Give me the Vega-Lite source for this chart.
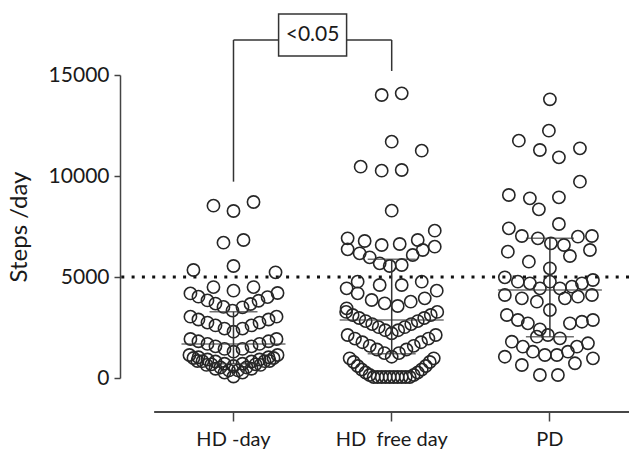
{
"$schema":"https://vega.github.io/schema/vega-lite/v6.json",
"width":509,"height":303,
"autosize":{"type":"none"},
"padding":{"left":120,"top":75,"right":0,"bottom":75},
"background":"white",
"config":{"view":{"stroke":null},"font":"Lato",
 "axis":{"labelColor":"#1a1a1a","titleColor":"#1a1a1a","tickColor":"#444","domainColor":"#444","domainWidth":1.5,"tickWidth":1.5,"grid":false,"labelFont":"Lato","titleFont":"Lato"}},
"datasets":{
"points":[
{"group":"HD -day","jitter":-20,"steps":8530},{"group":"HD -day","jitter":0,"steps":8267},{"group":"HD -day","jitter":20,"steps":8713},{"group":"HD -day","jitter":-10,"steps":6700},{"group":"HD -day","jitter":10,"steps":6832},{"group":"HD -day","jitter":0,"steps":5545},{"group":"HD -day","jitter":-40,"steps":5347},{"group":"HD -day","jitter":42,"steps":5231},{"group":"HD -day","jitter":-20,"steps":4500},{"group":"HD -day","jitter":0,"steps":4323},{"group":"HD -day","jitter":20,"steps":4500},
{"group":"HD -day","jitter":-43,"steps":4188},{"group":"HD -day","jitter":-35,"steps":4025},{"group":"HD -day","jitter":-26,"steps":3842},{"group":"HD -day","jitter":-18,"steps":3683},{"group":"HD -day","jitter":-10,"steps":3520},{"group":"HD -day","jitter":-1,"steps":3337},{"group":"HD -day","jitter":9,"steps":3500},{"group":"HD -day","jitter":17,"steps":3663},{"group":"HD -day","jitter":25,"steps":3822},{"group":"HD -day","jitter":34,"steps":4005},{"group":"HD -day","jitter":44,"steps":4208},
{"group":"HD -day","jitter":-43,"steps":3035},{"group":"HD -day","jitter":-35,"steps":2896},{"group":"HD -day","jitter":-26,"steps":2743},{"group":"HD -day","jitter":-18,"steps":2604},{"group":"HD -day","jitter":-9,"steps":2446},{"group":"HD -day","jitter":0,"steps":2292},{"group":"HD -day","jitter":9,"steps":2446},{"group":"HD -day","jitter":18,"steps":2604},{"group":"HD -day","jitter":26,"steps":2743},{"group":"HD -day","jitter":35,"steps":2896},{"group":"HD -day","jitter":43,"steps":3035},
{"group":"HD -day","jitter":-43,"steps":1931},{"group":"HD -day","jitter":-35,"steps":1817},{"group":"HD -day","jitter":-26,"steps":1688},{"group":"HD -day","jitter":-18,"steps":1569},{"group":"HD -day","jitter":-9,"steps":1440},{"group":"HD -day","jitter":0,"steps":1302},{"group":"HD -day","jitter":9,"steps":1440},{"group":"HD -day","jitter":18,"steps":1569},{"group":"HD -day","jitter":26,"steps":1688},{"group":"HD -day","jitter":35,"steps":1817},{"group":"HD -day","jitter":43,"steps":1931},
{"group":"HD -day","jitter":-44,"steps":1139},{"group":"HD -day","jitter":-35,"steps":1027},{"group":"HD -day","jitter":-26,"steps":916},{"group":"HD -day","jitter":-18,"steps":817},{"group":"HD -day","jitter":-9,"steps":705},{"group":"HD -day","jitter":0,"steps":594},{"group":"HD -day","jitter":9,"steps":705},{"group":"HD -day","jitter":18,"steps":817},{"group":"HD -day","jitter":26,"steps":916},{"group":"HD -day","jitter":35,"steps":1027},{"group":"HD -day","jitter":44,"steps":1139},
{"group":"HD -day","jitter":-40,"steps":990},{"group":"HD -day","jitter":-31,"steps":834},{"group":"HD -day","jitter":-22,"steps":678},{"group":"HD -day","jitter":-13,"steps":522},{"group":"HD -day","jitter":-4.5,"steps":376},{"group":"HD -day","jitter":4.5,"steps":376},{"group":"HD -day","jitter":13,"steps":522},{"group":"HD -day","jitter":22,"steps":678},{"group":"HD -day","jitter":31,"steps":834},{"group":"HD -day","jitter":40,"steps":990},
{"group":"HD -day","jitter":-36,"steps":842},{"group":"HD -day","jitter":-27,"steps":650},{"group":"HD -day","jitter":-18,"steps":458},{"group":"HD -day","jitter":-9,"steps":267},{"group":"HD -day","jitter":0,"steps":74},{"group":"HD -day","jitter":9,"steps":267},{"group":"HD -day","jitter":18,"steps":458},{"group":"HD -day","jitter":27,"steps":650},{"group":"HD -day","jitter":36,"steps":842},
{"group":"HD\u00a0 free day","jitter":-10,"steps":14010},{"group":"HD\u00a0 free day","jitter":10,"steps":14093},{"group":"HD\u00a0 free day","jitter":0,"steps":11700},{"group":"HD\u00a0 free day","jitter":30,"steps":11254},{"group":"HD\u00a0 free day","jitter":-31,"steps":10462},{"group":"HD\u00a0 free day","jitter":-10,"steps":10264},{"group":"HD\u00a0 free day","jitter":10,"steps":10297},{"group":"HD\u00a0 free day","jitter":0,"steps":8284},
{"group":"HD\u00a0 free day","jitter":43,"steps":7294},{"group":"HD\u00a0 free day","jitter":-44,"steps":6914},{"group":"HD\u00a0 free day","jitter":-27,"steps":6782},{"group":"HD\u00a0 free day","jitter":-10,"steps":6584},{"group":"HD\u00a0 free day","jitter":8,"steps":6634},{"group":"HD\u00a0 free day","jitter":26,"steps":6832},{"group":"HD\u00a0 free day","jitter":-44,"steps":6370},{"group":"HD\u00a0 free day","jitter":-32,"steps":6172},{"group":"HD\u00a0 free day","jitter":-22,"steps":5974},{"group":"HD\u00a0 free day","jitter":-12,"steps":5677},{"group":"HD\u00a0 free day","jitter":-2,"steps":5545},{"group":"HD\u00a0 free day","jitter":10,"steps":5594},{"group":"HD\u00a0 free day","jitter":21,"steps":6089},{"group":"HD\u00a0 free day","jitter":31,"steps":6337},{"group":"HD\u00a0 free day","jitter":43,"steps":6502},
{"group":"HD\u00a0 free day","jitter":-45,"steps":4439},{"group":"HD\u00a0 free day","jitter":-34,"steps":4769},{"group":"HD\u00a0 free day","jitter":-12,"steps":4604},{"group":"HD\u00a0 free day","jitter":10,"steps":4604},{"group":"HD\u00a0 free day","jitter":30,"steps":4769},{"group":"HD\u00a0 free day","jitter":45,"steps":4323},{"group":"HD\u00a0 free day","jitter":-34,"steps":4191},{"group":"HD\u00a0 free day","jitter":-20,"steps":3861},{"group":"HD\u00a0 free day","jitter":-7,"steps":3696},{"group":"HD\u00a0 free day","jitter":6,"steps":3564},{"group":"HD\u00a0 free day","jitter":19,"steps":3778},{"group":"HD\u00a0 free day","jitter":33,"steps":3944},{"group":"HD\u00a0 free day","jitter":-45,"steps":3449},
{"group":"HD\u00a0 free day","jitter":-45.5,"steps":3272},{"group":"HD\u00a0 free day","jitter":-39,"steps":3119},{"group":"HD\u00a0 free day","jitter":-32.5,"steps":2970},{"group":"HD\u00a0 free day","jitter":-26,"steps":2817},{"group":"HD\u00a0 free day","jitter":-19.5,"steps":2668},{"group":"HD\u00a0 free day","jitter":-13,"steps":2515},{"group":"HD\u00a0 free day","jitter":-6.5,"steps":2366},{"group":"HD\u00a0 free day","jitter":0,"steps":2213},{"group":"HD\u00a0 free day","jitter":6.5,"steps":2366},{"group":"HD\u00a0 free day","jitter":13,"steps":2515},{"group":"HD\u00a0 free day","jitter":19.5,"steps":2668},{"group":"HD\u00a0 free day","jitter":26,"steps":2817},{"group":"HD\u00a0 free day","jitter":32.5,"steps":2970},{"group":"HD\u00a0 free day","jitter":39,"steps":3119},{"group":"HD\u00a0 free day","jitter":45.5,"steps":3272},
{"group":"HD\u00a0 free day","jitter":-44,"steps":2129},{"group":"HD\u00a0 free day","jitter":-36.7,"steps":1950},{"group":"HD\u00a0 free day","jitter":-29.3,"steps":1772},{"group":"HD\u00a0 free day","jitter":-22,"steps":1592},{"group":"HD\u00a0 free day","jitter":-14.7,"steps":1411},{"group":"HD\u00a0 free day","jitter":-7.3,"steps":1233},{"group":"HD\u00a0 free day","jitter":0,"steps":1054},{"group":"HD\u00a0 free day","jitter":7.3,"steps":1233},{"group":"HD\u00a0 free day","jitter":14.7,"steps":1411},{"group":"HD\u00a0 free day","jitter":22,"steps":1592},{"group":"HD\u00a0 free day","jitter":29.3,"steps":1772},{"group":"HD\u00a0 free day","jitter":36.7,"steps":1950},{"group":"HD\u00a0 free day","jitter":44,"steps":2129},
{"group":"HD\u00a0 free day","jitter":-42,"steps":975},{"group":"HD\u00a0 free day","jitter":-38,"steps":792},{"group":"HD\u00a0 free day","jitter":-34,"steps":594},{"group":"HD\u00a0 free day","jitter":-30,"steps":421},{"group":"HD\u00a0 free day","jitter":-26,"steps":272},{"group":"HD\u00a0 free day","jitter":-22,"steps":149},{"group":"HD\u00a0 free day","jitter":-18,"steps":50},{"group":"HD\u00a0 free day","jitter":-14,"steps":50},{"group":"HD\u00a0 free day","jitter":-10,"steps":50},{"group":"HD\u00a0 free day","jitter":-6,"steps":50},{"group":"HD\u00a0 free day","jitter":-2,"steps":50},{"group":"HD\u00a0 free day","jitter":2,"steps":50},{"group":"HD\u00a0 free day","jitter":6,"steps":50},{"group":"HD\u00a0 free day","jitter":10,"steps":50},{"group":"HD\u00a0 free day","jitter":14,"steps":50},{"group":"HD\u00a0 free day","jitter":18,"steps":50},{"group":"HD\u00a0 free day","jitter":22,"steps":149},{"group":"HD\u00a0 free day","jitter":26,"steps":272},{"group":"HD\u00a0 free day","jitter":30,"steps":421},{"group":"HD\u00a0 free day","jitter":34,"steps":594},{"group":"HD\u00a0 free day","jitter":38,"steps":792},{"group":"HD\u00a0 free day","jitter":42,"steps":975},
{"group":"PD","jitter":0,"steps":13797},{"group":"PD","jitter":-1,"steps":12244},{"group":"PD","jitter":-31,"steps":11749},{"group":"PD","jitter":-10,"steps":11287},{"group":"PD","jitter":9,"steps":10924},{"group":"PD","jitter":30,"steps":11370},{"group":"PD","jitter":30,"steps":9720},{"group":"PD","jitter":-41,"steps":9059},{"group":"PD","jitter":-20,"steps":8894},{"group":"PD","jitter":9,"steps":8943},{"group":"PD","jitter":-11,"steps":8350},{"group":"PD","jitter":9,"steps":7624},{"group":"PD","jitter":-41,"steps":7409},{"group":"PD","jitter":-28,"steps":7030},{"group":"PD","jitter":-12,"steps":6914},{"group":"PD","jitter":1,"steps":6667},{"group":"PD","jitter":14,"steps":6584},{"group":"PD","jitter":28,"steps":6996},{"group":"PD","jitter":42,"steps":7030},{"group":"PD","jitter":-42,"steps":6254},{"group":"PD","jitter":20,"steps":6040},{"group":"PD","jitter":40,"steps":6337},{"group":"PD","jitter":-21,"steps":5759},{"group":"PD","jitter":0,"steps":5429},{"group":"PD","jitter":-45,"steps":4983},{"group":"PD","jitter":-32,"steps":4769},{"group":"PD","jitter":-20,"steps":4686},{"group":"PD","jitter":-10,"steps":4439},{"group":"PD","jitter":0,"steps":4769},{"group":"PD","jitter":10,"steps":4439},{"group":"PD","jitter":22,"steps":4521},{"group":"PD","jitter":32,"steps":4686},{"group":"PD","jitter":43,"steps":4851},
{"group":"PD","jitter":-45,"steps":4109},{"group":"PD","jitter":-28,"steps":3944},{"group":"PD","jitter":-13,"steps":3778},{"group":"PD","jitter":15,"steps":3944},{"group":"PD","jitter":28,"steps":4027},{"group":"PD","jitter":42,"steps":4109},
{"group":"PD","jitter":0,"steps":3366},
{"group":"PD","jitter":-43,"steps":3119},{"group":"PD","jitter":-32,"steps":2871},{"group":"PD","jitter":-22,"steps":2706},{"group":"PD","jitter":20,"steps":2706},{"group":"PD","jitter":32,"steps":2787},{"group":"PD","jitter":43,"steps":2871},
{"group":"PD","jitter":-10,"steps":2409},
{"group":"PD","jitter":-13,"steps":2045},{"group":"PD","jitter":-2,"steps":2129},{"group":"PD","jitter":10,"steps":1965},
{"group":"PD","jitter":-38,"steps":1797},{"group":"PD","jitter":-27,"steps":1550},{"group":"PD","jitter":-17,"steps":1302},{"group":"PD","jitter":-5,"steps":1139},{"group":"PD","jitter":7,"steps":1139},{"group":"PD","jitter":18,"steps":1302},{"group":"PD","jitter":27,"steps":1550},{"group":"PD","jitter":38,"steps":1718},
{"group":"PD","jitter":-45,"steps":1054},{"group":"PD","jitter":-28,"steps":644},{"group":"PD","jitter":25,"steps":728},{"group":"PD","jitter":43,"steps":975},
{"group":"PD","jitter":-10,"steps":149},{"group":"PD","jitter":8,"steps":149}
],
"stats":[
{"group":"HD -day","q1":700,"median":1683,"q3":3280},
{"group":"HD\u00a0 free day","q1":1200,"median":2871,"q3":5875},
{"group":"PD","q1":2046,"median":4356,"q3":6914}
],
"refLine":[{"steps":5000}],
"bracketLegs":[
{"group":"HD -day","low":9720,"high":16733},
{"group":"HD\u00a0 free day","low":15200,"high":16733}
],
"bracketTop":[{"from":"HD -day","to":"HD\u00a0 free day","y":16733}],
"pLabel":[{"group":"HD -day","y":16980,"label":"<0.05"}]
},
"layer":[
{"data":{"name":"refLine"},"mark":{"type":"rule","strokeDash":[3,7.3],"strokeWidth":3,"color":"#111"},
 "encoding":{"y":{"field":"steps","type":"quantitative"}}},
{"data":{"name":"points"},
 "mark":{"type":"point","shape":"circle","size":150,"filled":false,"stroke":"#262626","strokeWidth":1.6,"opacity":1},
 "encoding":{
  "x":{"field":"group","type":"nominal","sort":null,
   "scale":{"domain":["HD -day","HD\u00a0 free day","PD"],"paddingInner":0,"paddingOuter":0.1087,"align":1},
   "axis":{"title":null,"labelAngle":0,"domain":false,"offset":34,"tickSize":9,"labelPadding":8,"labelFontSize":20}},
  "xOffset":{"field":"jitter","type":"quantitative","scale":{"domain":[-79,79]}},
  "y":{"field":"steps","type":"quantitative","scale":{"domain":[0,15000],"nice":false,"zero":false},
   "axis":{"values":[0,5000,10000,15000],"format":"d","title":"Steps /day","titleFontSize":24,"titleFontWeight":"normal","titlePadding":17,"labelFontSize":21,"tickSize":6,"labelPadding":5}}}},
{"data":{"name":"stats"},"mark":{"type":"rule","color":"#333","strokeWidth":1.5},
 "encoding":{"x":{"field":"group","type":"nominal"},"y":{"field":"q1","type":"quantitative"},"y2":{"field":"q3"}}},
{"data":{"name":"stats"},"mark":{"type":"tick","color":"#333","size":104,"thickness":1.5},
 "encoding":{"x":{"field":"group","type":"nominal"},"y":{"field":"median","type":"quantitative"}}},
{"data":{"name":"stats"},"mark":{"type":"tick","color":"#333","size":48,"thickness":1.5},
 "encoding":{"x":{"field":"group","type":"nominal"},"y":{"field":"q1","type":"quantitative"}}},
{"data":{"name":"stats"},"mark":{"type":"tick","color":"#333","size":48,"thickness":1.5},
 "encoding":{"x":{"field":"group","type":"nominal"},"y":{"field":"q3","type":"quantitative"}}},
{"data":{"name":"stats"},"mark":{"type":"rule","color":"#444","strokeWidth":1.5},
 "encoding":{"x":{"datum":"HD -day","bandPosition":0},"x2":{"datum":"PD","bandPosition":1},"y":{"datum":-1683,"type":"quantitative"}}},
{"data":{"name":"bracketLegs"},"mark":{"type":"rule","color":"#333","strokeWidth":1.5},
 "encoding":{"x":{"field":"group","type":"nominal"},"y":{"field":"low","type":"quantitative"},"y2":{"field":"high"}}},
{"data":{"name":"bracketTop"},"mark":{"type":"rule","color":"#333","strokeWidth":1.5},
 "encoding":{"x":{"field":"from","type":"nominal"},"x2":{"field":"to"},"y":{"field":"y","type":"quantitative"}}},
{"data":{"name":"pLabel"},"mark":{"type":"point","shape":"M-1,-0.618H1V0.618H-1Z","size":4624,"filled":true,"fill":"white","stroke":"#333","strokeWidth":1.5,"opacity":1},
 "encoding":{"x":{"field":"group","type":"nominal","bandPosition":1},"y":{"field":"y","type":"quantitative"}}},
{"data":{"name":"pLabel"},"mark":{"type":"text","fontSize":21,"font":"Lato","color":"#1a1a1a","baseline":"middle","align":"center"},
 "encoding":{"x":{"field":"group","type":"nominal","bandPosition":1},"y":{"field":"y","type":"quantitative"},"text":{"field":"label"}}}
]
}
